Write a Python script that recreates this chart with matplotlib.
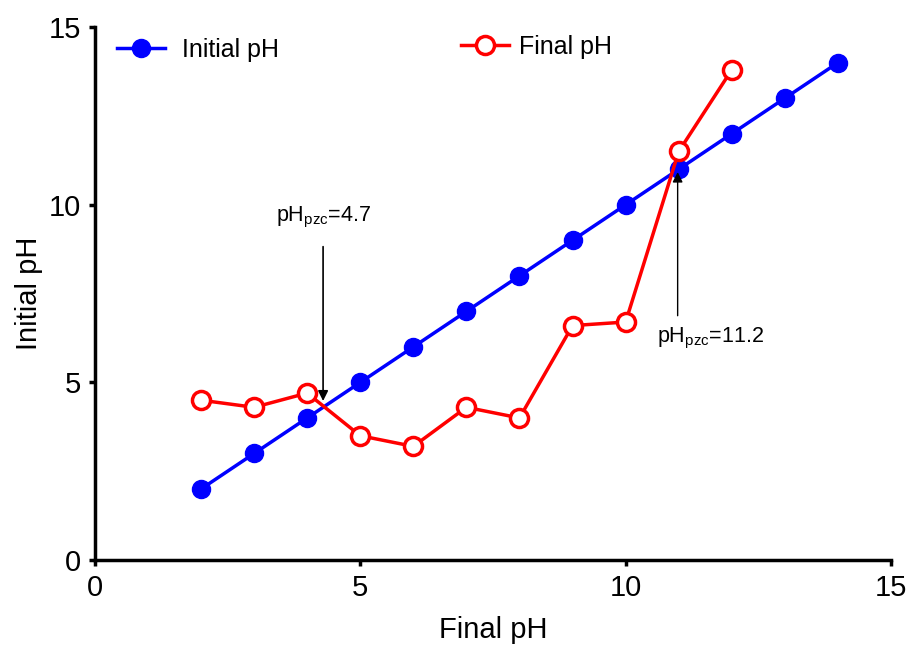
import matplotlib.pyplot as plt

plt.rcParams['font.family'] = ['Liberation Sans', 'DejaVu Sans']

# data
initial_x = [2, 3, 4, 5, 6, 7, 8, 9, 10, 11, 12, 13, 14]
initial_y = [2, 3, 4, 5, 6, 7, 8, 9, 10, 11, 12, 13, 14]
final_x = [2, 3, 4, 5, 6, 7, 8, 9, 10, 11, 12]
final_y = [4.5, 4.3, 4.7, 3.5, 3.2, 4.3, 4.0, 6.6, 6.7, 11.5, 13.8]

fig = plt.figure(figsize=(9.12, 6.46), dpi=100)
ax = fig.add_axes([0.104, 0.133, 0.873, 0.825])

l1, = ax.plot(initial_x, initial_y, color='#0000ff', lw=2.5, marker='o',
              markersize=13, label='Initial pH', zorder=3)
l2, = ax.plot(final_x, final_y, color='#ff0000', lw=2.5, marker='o',
              markersize=13, markerfacecolor='white', markeredgewidth=2.5,
              label='Final pH', zorder=4)

# pzc annotations
ax.annotate('', xy=(4.3, 4.4), xytext=(4.3, 8.9),
            arrowprops=dict(arrowstyle='-|>', color='black', lw=1.2,
                            mutation_scale=15))
ax.text(4.3, 9.3, r'pH$_{\mathregular{pzc}}$=4.7', ha='center', va='bottom',
        fontsize=15.5)
ax.annotate('', xy=(10.98, 11.0), xytext=(10.98, 6.8),
            arrowprops=dict(arrowstyle='-|>', color='black', lw=1.0,
                            mutation_scale=15))
ax.text(11.6, 6.6, r'pH$_{\mathregular{pzc}}$=11.2', ha='center', va='top',
        fontsize=15.5)

ax.set_xlim(0, 15)
ax.set_ylim(0, 15)
ax.set_xticks([0, 5, 10, 15])
ax.set_yticks([0, 5, 10, 15])
ax.set_xlabel('Final pH', fontsize=21, labelpad=10)
ax.set_ylabel('Initial pH', fontsize=21, labelpad=4)
ax.tick_params(labelsize=21, width=2.5, length=4, pad=6)
for s in ['top', 'right']:
    ax.spines[s].set_visible(False)
for s in ['left', 'bottom']:
    ax.spines[s].set_linewidth(2.5)

leg1 = ax.legend(handles=[l1], loc='upper left', bbox_to_anchor=(0.0, 1.022),
                 frameon=False, fontsize=18, handlelength=1.9,
                 handletextpad=0.7)
ax.add_artist(leg1)
ax.legend(handles=[l2], loc='upper left', bbox_to_anchor=(0.432, 1.028),
          frameon=False, fontsize=18, handlelength=1.9, handletextpad=0.4)

fig.savefig('out.png', dpi=100)
